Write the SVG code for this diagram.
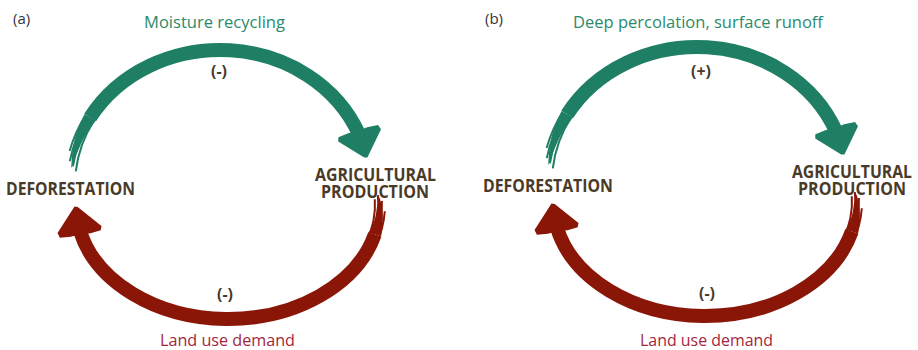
<svg xmlns="http://www.w3.org/2000/svg" width="918" height="350" viewBox="0 0 918 350">
<style>
  .node { font-family: "Open Sans", "Noto Sans", sans-serif; font-weight: 700; font-size: 17.5px; fill: #4a3a28; }
  .sign { font-family: "Open Sans", "Noto Sans", sans-serif; font-weight: 700; font-size: 16px; fill: #4a3a28; text-anchor: middle; }
  .lbl { font-family: "Open Sans", "Noto Sans", sans-serif; font-size: 16.5px; }
  .glbl { fill: #2b8a6c; }
  .rlbl { fill: #a3263c; }
  .panel { font-family: "Open Sans", "Noto Sans", sans-serif; font-size: 15px; fill: #33333f; }
  .gs { fill: none; stroke: #1f7f64; }
  .rs { fill: none; stroke: #8a1608; }
  .main { stroke-width: 14; }
  .streak { stroke-width: 2; }
  .gf { fill: #1f7f64; }
  .rf { fill: #8a1608; }
</style>
<rect width="918" height="350" fill="#ffffff"/>

<g id="connectors">
  <g id="a-moisture">
    <path class="gs main" d="M90.1,117.5 A150 135 0 0 1 358.9,134.0"/>
    <polygon class="gf" points="378.0,124.9 381.0,129.2 367.4,157.6 364.2,157.5 338.2,141.5 338.4,137.2 348.2,133.2 358.0,131.1 367.2,127.2"/>
    <path class="gf" d="M84.5,114.25 Q77.5,127 74.0,142.2 Q71.5,155 71.1,168.5 Q75.5,156 80.7,144.4 Q87,131 95.7,120.75 Z"/>
    <path class="gs streak" d="M75.8,171.4 A145 130 0 0 1 94.4,120"/>
    <path class="gs streak" d="M72.9,166.4 A148.5 133.5 0 0 1 91.4,118.25"/>
    <path class="gs streak" d="M69.8,161.1 A152.5 137.5 0 0 1 87.9,116.25"/>
    <path class="gs streak" d="M69.6,151.1 A155 140 0 0 1 85.8,115"/>
    <text class="lbl glbl" x="144" y="28" textLength="141" lengthAdjust="spacingAndGlyphs">Moisture recycling</text>
    <text class="sign" x="219" y="77">(-)</text>
  </g>
  <g id="a-landuse">
    <path class="rs main" d="M374.8,234.5 A152 114 0 0 1 80.0,231.0"/>
    <polygon class="rf" points="59.9,237.7 57.5,233.1 74.5,206.6 77.7,207.0 101.5,226.1 100.7,230.3 90.6,233.2 80.5,234.0 70.9,236.7"/>
    <path class="rf" d="M381.1,236.2 Q383.5,225 382.9,215.2 Q382,205 379.6,197 Q376.5,205 375.9,214.6 Q374,225 368.5,232.8 Z"/>
    <path class="rs streak" d="M374.8,199.3 A147 109 0 0 1 366.1,242.3"/>
    <path class="rs streak" d="M377.9,195.2 A150.5 112.5 0 0 1 369.4,243.5"/>
    <path class="rs streak" d="M381.9,201.0 A154 116 0 0 1 372.7,244.7"/>
    <path class="rs streak" d="M384.8,211.2 A157 119 0 0 1 375.5,245.7"/>
    <text class="lbl rlbl" x="160" y="346" textLength="135" lengthAdjust="spacingAndGlyphs">Land use demand</text>
    <text class="sign" x="225" y="300">(-)</text>
  </g>
  <g id="b-percolation">
    <g transform="translate(477,-3)">
      <path class="gs main" d="M90.1,117.5 A150 135 0 0 1 358.9,134.0"/>
      <polygon class="gf" points="378.0,124.9 381.0,129.2 367.4,157.6 364.2,157.5 338.2,141.5 338.4,137.2 348.2,133.2 358.0,131.1 367.2,127.2"/>
      <path class="gf" d="M84.5,114.25 Q77.5,127 74.0,142.2 Q71.5,155 71.1,168.5 Q75.5,156 80.7,144.4 Q87,131 95.7,120.75 Z"/>
      <path class="gs streak" d="M75.8,171.4 A145 130 0 0 1 94.4,120"/>
      <path class="gs streak" d="M72.9,166.4 A148.5 133.5 0 0 1 91.4,118.25"/>
      <path class="gs streak" d="M69.8,161.1 A152.5 137.5 0 0 1 87.9,116.25"/>
      <path class="gs streak" d="M69.6,151.1 A155 140 0 0 1 85.8,115"/>
    </g>
    <text class="lbl glbl" x="573" y="28" textLength="250" lengthAdjust="spacingAndGlyphs">Deep percolation, surface runoff</text>
    <text class="sign" x="701" y="77">(+)</text>
  </g>
  <g id="b-landuse">
    <g transform="translate(477,-3)">
      <path class="rs main" d="M374.8,234.5 A152 114 0 0 1 80.0,231.0"/>
      <polygon class="rf" points="59.9,237.7 57.5,233.1 74.5,206.6 77.7,207.0 101.5,226.1 100.7,230.3 90.6,233.2 80.5,234.0 70.9,236.7"/>
      <path class="rf" d="M381.1,236.2 Q383.5,225 382.9,215.2 Q382,205 379.6,197 Q376.5,205 375.9,214.6 Q374,225 368.5,232.8 Z"/>
      <path class="rs streak" d="M374.8,199.3 A147 109 0 0 1 366.1,242.3"/>
      <path class="rs streak" d="M377.9,195.2 A150.5 112.5 0 0 1 369.4,243.5"/>
      <path class="rs streak" d="M381.9,201.0 A154 116 0 0 1 372.7,244.7"/>
      <path class="rs streak" d="M384.8,211.2 A157 119 0 0 1 375.5,245.7"/>
    </g>
    <text class="lbl rlbl" x="640" y="346" textLength="133" lengthAdjust="spacingAndGlyphs">Land use demand</text>
    <text class="sign" x="707" y="299">(-)</text>
  </g>
</g>

<g id="panel-a-label"><text class="panel" x="13" y="24">(a)</text></g>
<g id="panel-b-label"><text class="panel" x="485" y="24">(b)</text></g>

<g id="a-deforestation">
  <text class="node" x="6" y="195" textLength="129" lengthAdjust="spacingAndGlyphs">DEFORESTATION</text>
</g>
<g id="a-agricultural">
  <text class="node" x="315" y="181" textLength="121" lengthAdjust="spacingAndGlyphs">AGRICULTURAL</text>
  <text class="node" x="321" y="198" textLength="108" lengthAdjust="spacingAndGlyphs">PRODUCTION</text>
</g>
<g id="b-deforestation">
  <text class="node" x="483" y="192" textLength="130" lengthAdjust="spacingAndGlyphs">DEFORESTATION</text>
</g>
<g id="b-agricultural">
  <text class="node" x="792" y="178" textLength="120" lengthAdjust="spacingAndGlyphs">AGRICULTURAL</text>
  <text class="node" x="798" y="195" textLength="108" lengthAdjust="spacingAndGlyphs">PRODUCTION</text>
</g>
</svg>
